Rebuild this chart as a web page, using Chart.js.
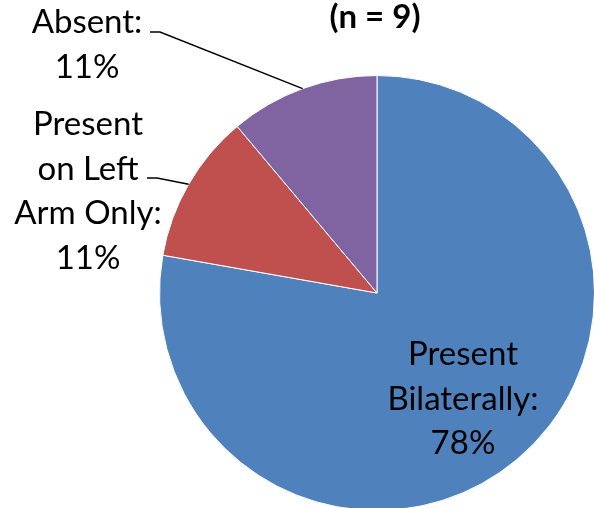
<!DOCTYPE html>
<html>
<head>
<meta charset="utf-8">
<script src="https://cdn.jsdelivr.net/npm/chart.js@4"></script>
<style>
  html, body { margin: 0; padding: 0; background: #fff; overflow: hidden; }
</style>
</head>
<body>
<canvas id="pieChart" width="594" height="508"></canvas>
<script>
// Chart data
const categories = ['Present Bilaterally', 'Present on Left Arm Only', 'Absent'];
const counts = [7, 1, 1];
const percentLabels = ['78%', '11%', '11%'];
const labelLines = [
  ['Present', 'Bilaterally:', '78%'],
  ['Present', 'on Left', 'Arm Only:', '11%'],
  ['Absent:', '11%']
];
const sliceColors = ['#4F81BD', '#C0504D', '#8064A2'];
const titleText = '(n = 9)';

const FONT = 'Lato, "Open Sans", sans-serif';

// The original pie runs a little past the right and bottom edges
const bleedArea = {
  id: 'bleedArea',
  afterLayout(chart) {
    const ca = chart.chartArea;
    ca.right += 1;
    ca.bottom += 3;
    ca.width = ca.right - ca.left;
    ca.height = ca.bottom - ca.top;
  }
};

// Draw data labels with leader lines
const pieLabels = {
  id: 'pieLabels',
  afterDraw(chart) {
    const ctx = chart.ctx;
    const arcs = chart.getDatasetMeta(0).data;
    ctx.save();
    ctx.font = '33px ' + FONT;
    ctx.fillStyle = '#000';
    ctx.textAlign = 'center';
    ctx.textBaseline = 'alphabetic';
    const lineH = 44.5;

    // inside label for the big slice
    const a0 = arcs[0];
    const mid0 = (a0.startAngle + a0.endAngle) / 2;
    const r0 = a0.outerRadius * 0.615;
    const cx0 = a0.x + Math.cos(mid0) * r0;
    const cy0 = a0.y + Math.sin(mid0) * r0;
    labelLines[0].forEach((t, i) => {
      ctx.fillText(t, cx0, cy0 - 30 + i * lineH);
    });

    // outside labels
    const outside = [
      { idx: 1, x: 88, y: 135, lineY: 178, lineX: 147 },
      { idx: 2, x: 87, y: 33, lineY: 32, lineX: 150 }
    ];
    outside.forEach(o => {
      labelLines[o.idx].forEach((t, i) => {
        ctx.fillText(t, o.x, o.y + i * lineH);
      });
      const a = arcs[o.idx];
      const mid = (a.startAngle + a.endAngle) / 2;
      const px = a.x + Math.cos(mid) * a.outerRadius;
      const py = a.y + Math.sin(mid) * a.outerRadius;
      ctx.strokeStyle = '#000';
      ctx.lineWidth = 1.5;
      ctx.beginPath();
      ctx.moveTo(o.lineX, o.lineY);
      ctx.lineTo(o.lineX + 10, o.lineY);
      ctx.lineTo(px, py);
      ctx.stroke();
    });

    // title
    ctx.font = 'bold 33px ' + FONT;
    ctx.fillText(titleText, 375, 28);
    ctx.restore();
  }
};

new Chart(document.getElementById('pieChart'), {
  type: 'pie',
  data: {
    labels: categories,
    datasets: [{
      data: counts,
      backgroundColor: sliceColors,
      borderColor: '#ffffff',
      borderWidth: 1
    }]
  },
  options: {
    responsive: false,
    animation: false,
    layout: {
      padding: { left: 159, right: 0, top: 75, bottom: 0 }
    },
    plugins: {
      legend: { display: false },
      tooltip: { enabled: false },
      title: { display: false }
    }
  },
  plugins: [bleedArea, pieLabels]
});
</script>
</body>
</html>
